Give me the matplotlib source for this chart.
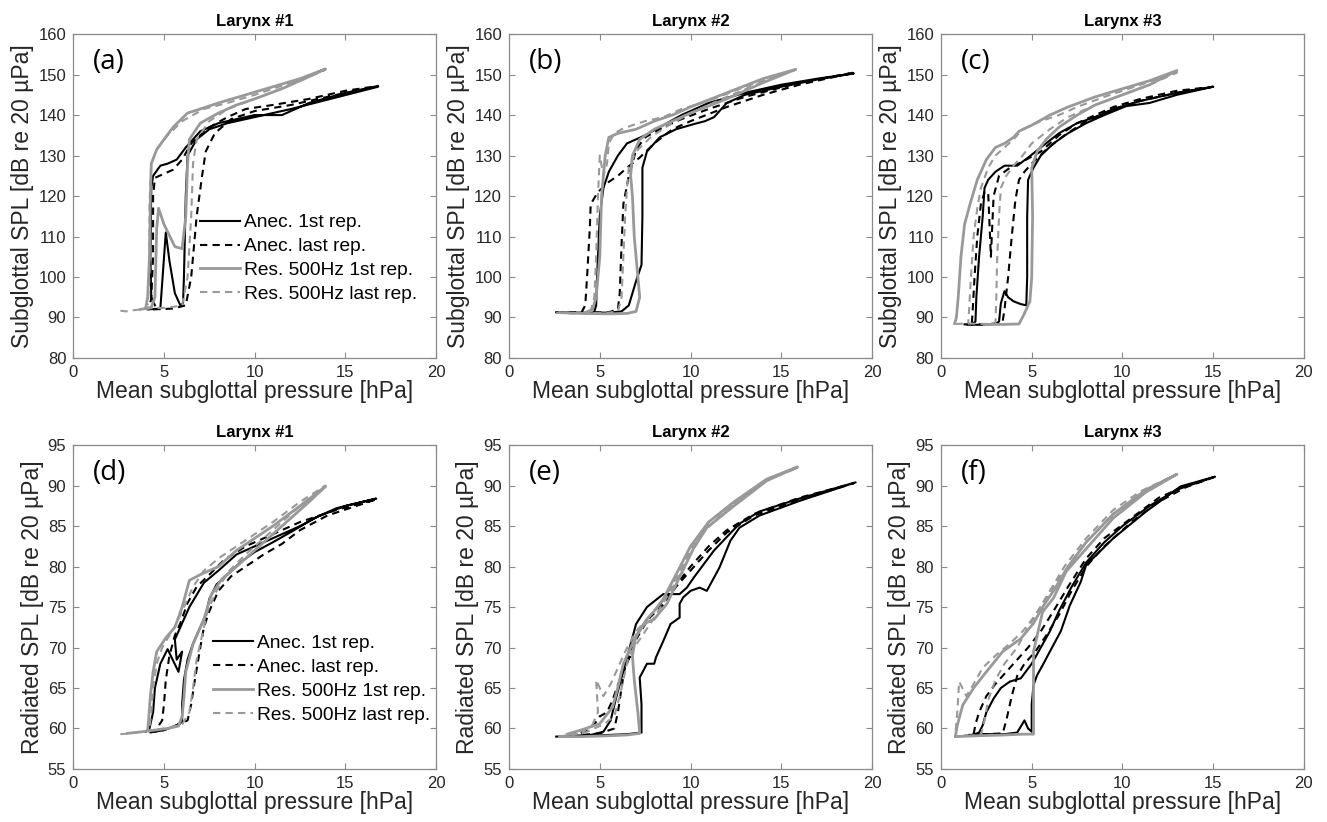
import matplotlib
matplotlib.use("Agg")
import matplotlib.pyplot as plt
from matplotlib.lines import Line2D

# ---------------- DATA (mean subglottal pressure [hPa], SPL [dB]) ----------------
# Panel (a): Larynx #1, subglottal SPL
a_anec1 = [(4.1,92),(4.8,92.2),(5.1,111),(5.3,104),(5.6,96),(5.9,93),(6.05,93.5),(6.1,100),(6.2,120),
           (6.3,130),(6.8,134),(7.5,136.5),(8.5,138),(10,139.5),(12,141.5),(14,143.8),(16.8,147),
           (15,145.5),(13,143),(11.5,140),(10,140),(9,139),(8,138),(7,136),(6.2,132),(5.7,129),
           (5.2,128),(4.8,127.5),(4.4,125),(4.3,122),(4.25,105),(4.3,95),(4.5,93)]
a_anec2 = [(4.4,92),(5.5,92.2),(6.2,93),(6.5,100),(6.8,115),(7.1,125),(7.3,131),(7.8,135.5),(8.7,139),
           (10,141),(12,142.5),(14,144.5),(16.8,147.2),(15,146),(13,144),(11,142.5),(9.5,141.5),
           (8.5,139.5),(7.5,137),(6.5,133),(6.0,129),(5.5,126.5),(5.0,125.5),(4.5,124.5),(4.4,120),
           (4.4,105),(4.3,95),(4.2,92.3)]
a_res1 = [(3.7,92),(4.3,92.5),(4.5,95),(4.6,112),(4.7,117),(5.0,113),(5.6,107.5),(6.0,107),(6.2,115),
          (6.3,128),(6.4,134),(7.0,138),(8,140.5),(9,142.5),(10,144),(11.5,146.5),(13,149.5),(13.9,151.4),
          (12.5,149),(11,147),(9.5,145),(8,143),(7.0,141.5),(6.3,140.5),(5.5,137),(5.0,134),(4.6,131.5),
          (4.3,128),(4.25,120),(4.2,105),(4.1,95),(4.0,92.5)]
a_res2 = [(2.6,91.7),(2.9,91.5),(3.3,91.8),(3.8,92),(4.3,92.3),(5.2,92.4),(6.0,93),(6.3,100),(6.5,115),
          (6.6,128),(6.8,134),(7.5,138.5),(8.5,141.5),(10,144),(12,147.5),(13.9,151.2),(12,148),(10,145),
          (8.5,143),(7.2,141.5),(6.0,138.5),(5.2,135),(4.6,131.5),(4.3,128),(4.2,118),(4.2,100),(4.1,93)]

# Panel (b): Larynx #2, subglottal SPL
b_anec1 = [(2.6,91.3),(4.0,91.2),(5.5,91.2),(6.2,91.5),(6.6,93),(7.0,99),(7.3,103),(7.35,115),(7.35,127),
           (7.6,131),(8.3,134.5),(9.2,136.5),(10.2,137.8),(10.8,138.5),(11.3,139.5),(12.0,143),(13,145),
           (15,147),(17,148.8),(19,150.3),(17,149),(15,147.5),(13,145.5),(11,143),(9.5,140),(8.5,137.5),
           (7.5,135),(6.5,133),(6.0,130),(5.5,126),(5.2,122),(5.0,115),(4.85,100),(4.8,93),(4.7,91.5)]
b_anec2 = [(2.6,91.3),(4.0,91.3),(4.2,93),(4.3,100),(4.45,112),(4.5,118),(4.9,121),(5.5,123.5),(6.0,125),
           (6.5,127),(7.2,129.5),(8,133),(9,136.5),(10,138.5),(12,142),(14,145),(16,147.5),(19,150.5),
           (16,148),(13,144.5),(11,141.5),(9.5,139),(8.5,137),(7.5,134.5),(7.0,131.5),(6.8,128),(6.6,125),
           (6.3,118),(6.2,108),(6.1,96),(6.0,92),(5.5,91.3),(4.5,91.3)]
b_res1 = [(2.8,91.2),(4.0,91),(5.5,90.9),(6.5,91),(7.0,91.5),(7.2,95),(7.1,100),(6.9,110),(6.8,120),
          (6.7,125),(6.8,130),(7.2,134),(8,136.5),(9,138.5),(10,140.5),(12,144),(14,148),(15.8,151.3),
          (14,149),(12,145.5),(10,142),(9,140),(8,138.5),(7,136.5),(6,135.5),(5.5,134.5),(5.3,130),
          (5.1,120),(5.0,105),(4.8,95),(4.6,92),(4.2,91.2)]
b_res2 = [(2.6,91.2),(3.5,91),(4.5,91.1),(5.5,91.2),(6.0,91.5),(6.2,95),(6.3,105),(6.4,115),(6.5,122),
          (6.6,127),(7,131),(7.8,134.5),(8.8,137.5),(10,140.5),(12,144.5),(14,148.2),(15.8,151.2),
          (13,147),(11,143.5),(9.5,141.5),(8.5,139.5),(7.5,138.5),(6.8,137.5),(6.2,136.5),(5.8,135.5),
          (5.5,133),(5.4,128),(5.2,125),(5.0,130),(4.9,120),(4.8,105),(4.7,95),(4.5,91.5)]

# Panel (c): Larynx #3, subglottal SPL
c_anec1 = [(1.3,88.3),(2.0,88.2),(3.0,88.4),(3.2,89),(3.3,93.5),(3.5,96.5),(3.7,95),(4.0,94),(4.4,93.3),
           (4.7,93),(4.75,100),(4.75,115),(4.8,124),(5.1,127),(5.5,130),(6.2,133),(7,135.5),(8,138),
           (9,140),(10.2,142.2),(11.5,143),(13,145),(15,147),(13,145.5),(11,143.5),(9.5,141.5),(8.5,139.5),
           (7.5,138),(6.5,135.5),(5.5,132),(4.8,129.5),(4.2,127.5),(3.5,127.5),(3.0,126),(2.6,124),
           (2.4,122),(2.3,115),(2.1,105),(1.95,95),(1.9,89),(1.7,88.3)]
c_anec2 = [(1.4,88.3),(2.2,88.3),(3.0,88.5),(3.4,89),(3.5,92),(3.7,100),(3.9,110),(4.1,119),(4.3,124),
           (4.6,126),(5.0,128),(5.8,131.5),(6.8,135),(8,138.5),(9.5,141.5),(11,143.5),(13,145.5),(15,147),
           (13,146),(11,144),(9.5,142),(8.5,140),(7.5,138),(6.5,135),(5.5,131),(4.5,128.5),(3.8,127),
           (3.2,125),(2.9,120),(2.75,105),(2.6,121),(2.4,121),(2.2,118),(2.0,110),(1.85,100),(1.75,92),
           (1.7,88.5)]
c_res1 = [(2.4,88.3),(3.5,88.3),(4.3,88.4),(4.6,91),(4.9,94),(5.0,100),(5.05,115),(5.0,127),(5.3,131),
          (5.8,134),(6.5,137),(7.5,140),(8.5,142.5),(10,145),(11.5,147.5),(13,151),(11.5,148.5),
          (10,146.5),(8.5,144.5),(7,142),(6,140),(5,137.5),(4.3,136),(4.0,134.5),(3.5,133),(3.0,132),
          (2.5,129),(2.0,124),(1.6,118),(1.3,113),(1.1,105),(0.95,95),(0.85,90),(0.75,88.5)]
c_res2 = [(0.8,88.4),(1.5,88.5),(2.5,88.4),(3.0,88.6),(3.05,95),(3.1,105),(3.2,115),(3.3,122),(3.6,125),
          (4.0,127.5),(4.5,130),(5.0,133),(6,136.5),(7,139.5),(8.5,142.5),(10,145),(11.5,147.5),
          (13,150.5),(11,147.5),(9,144.5),(7.5,142),(6.5,140),(5.5,138.5),(4.5,136.5),(4.0,134),
          (3.5,132),(3.0,130),(2.6,127),(2.2,122),(2.0,117),(1.8,110),(1.65,100),(1.55,92),(1.5,88.5)]

# Panel (d): Larynx #1, radiated SPL
d_anec1 = [(4.5,59.6),(5.0,59.8),(5.6,60.3),(6.0,60.8),(6.0,63),(6.1,66),(6.3,68.5),(6.6,70.5),(7.0,72.5),
           (7.3,74),(7.5,76),(7.9,77.8),(8.5,79),(9.2,80.5),(10,81.8),(11,83),(12.1,84.4),(13.3,86),
           (14.5,87.2),(16.7,88.4),(15,87.5),(13.5,86.2),(12.5,85),(11,83.5),(10,82.5),(9,81.5),(8,79.5),
           (7.2,78),(6.8,76.5),(6.4,75),(6,73),(5.6,71),(5.7,68.5),(6.0,69.5),(5.8,67),(5.2,69.8),
           (4.8,68),(4.5,65),(4.4,62),(4.2,60),(4.0,59.6)]
d_anec2 = [(4.2,59.5),(5.0,59.8),(5.8,60.5),(6.3,61),(6.5,63),(6.7,66),(7.0,70),(7.2,72.5),(7.5,74.5),
           (8.0,77),(8.7,78.8),(9.5,80),(10.5,81.5),(11.5,82.8),(12.5,84.5),(14,86.3),(16.7,88.3),
           (14.5,87),(12.5,85.5),(11,84),(9.5,82.5),(8.3,80.8),(7.5,79),(6.8,77.5),(6.3,75.5),(5.9,73),
           (5.6,71.5),(5.3,69),(5.1,66),(5.0,63),(4.9,61),(4.6,60)]
d_res1 = [(3.0,59.4),(3.8,59.6),(4.5,59.8),(5.2,60),(5.8,60.3),(6.0,61.5),(6.1,63.8),(6.2,67),(6.6,70.4),
          (7.2,73.5),(7.6,76.5),(8.2,78.5),(9,80),(10,82),(11,84),(12,86),(13,88),(13.9,89.9),(12.5,87.5),
          (11,85),(10,83.5),(9,82),(8,80),(7,79),(6.4,78.3),(6,75),(5.6,72.5),(5.1,71.2),(4.6,69.5),
          (4.4,67),(4.25,64),(4.15,61),(4.1,59.8)]
d_res2 = [(2.6,59.3),(3.2,59.4),(4.0,59.7),(5.0,60),(6.0,60.5),(6.4,62),(6.6,65),(6.8,68.5),(7.1,71.5),
          (7.4,74.5),(7.9,77),(8.6,79.5),(9.5,81.5),(10.5,83.5),(11.5,85.5),(12.5,87.5),(13.9,90),
          (12.5,88),(11,85.5),(10,84),(9,82.5),(8,81),(7.2,79.5),(6.6,77.5),(6.1,75),(5.7,73),(5.3,71.5),
          (4.9,70),(4.6,68),(4.4,65),(4.3,62),(4.2,60)]

# Panel (e): Larynx #2, radiated SPL
e_anec1 = [(2.6,59),(4,59.1),(5.5,59.2),(6.5,59.3),(7.3,59.5),(7.3,63),(7.2,66.3),(7.6,68),(8.0,68),
           (8.1,68.8),(8.5,70.8),(8.9,72.9),(9.4,73.7),(9.4,75.4),(9.6,76.2),(10.0,77),(10.5,77.4),
           (10.9,77),(11.6,79.9),(12.2,83.2),(12.7,84.8),(13.8,86.3),(16,88.1),(19.1,90.4),(16,88.4),
           (13.8,86.8),(12.7,85.3),(11.3,82),(10.2,78.7),(9.8,77.4),(9.4,76.6),(8.5,76.6),(7.6,75),
           (7.0,72.9),(6.7,70.4),(6.3,67.1),(5.9,63.8),(5.6,61),(5.2,59.6),(4.5,59.2),(3,59)]
e_anec2 = [(2.7,59),(4,59.2),(5,59.4),(5.8,60),(6.0,62),(6.2,65),(6.4,68),(6.7,69),(6.9,71),(7.3,72.5),
           (7.8,73.8),(8.6,75.5),(9.2,77.5),(10,79.5),(11,82),(12,84.2),(13.5,86.3),(16,88.2),(19,90.3),
           (16,88.5),(13.5,86.5),(12,84.5),(11,82.5),(10,80),(9.3,78),(8.6,76),(7.8,74),(7,71),(6.5,68),
           (6.1,66),(5.7,63.5),(5.4,62),(5.0,61.5),(4.7,60.5),(4.3,59.8),(3.8,59.3)]
e_res1 = [(2.8,59),(4,59),(5.5,59.1),(6.5,59.2),(7.2,59.4),(7.1,62),(6.9,66),(6.8,69),(7.0,71.5),(7.5,73),
          (8.0,73.5),(8.7,75.4),(9.4,78.7),(10.2,82.4),(10.9,84.8),(12.4,87.5),(14.2,90.6),(15.9,92.3),
          (14.2,90.8),(12.4,88),(11,85.5),(10,82.5),(9.2,79),(8.5,76),(8,74.5),(7.6,73.5),(7.3,72.5),
          (6.8,70.5),(6.3,68),(6.0,65.1),(5.7,62.6),(5.0,60.6),(4.1,59.9),(3.2,59.3)]
e_res2 = [(2.7,59),(4.2,59.5),(5.2,60.5),(5.8,61.5),(6.1,64),(6.3,66),(6.6,69),(7.2,71),(7.8,73),
          (8.5,75.5),(9.3,78.5),(10,81.5),(10.8,84.5),(12.4,87.8),(14.2,90.8),(15.9,92.2),(14,90.5),
          (12.4,87.8),(11,85.5),(10,82),(9.2,78.5),(8.4,75.5),(7.6,73.5),(7,72),(6.4,69.5),(6,67.5),
          (5.6,65.5),(5.2,64),(4.8,66),(4.9,62),(4.6,60.5),(4.0,59.5),(3.5,59.2)]

# Panel (f): Larynx #3, radiated SPL
f_anec1 = [(1.3,59.1),(2.5,59.3),(3.5,59.3),(4.2,59.5),(4.6,61),(4.8,60),(5.0,59.6),(5.0,63),(5.1,65.4),
           (5.3,66.6),(5.6,67.8),(6.0,69.5),(6.6,72),(7.1,75.2),(7.7,78.1),(8.0,80.2),(9.5,83.5),
           (11.3,86.8),(13.2,89.9),(15.1,91.1),(13,89.5),(11.5,87.5),(10,85),(9,83),(8,80.5),(7.2,77.5),
           (6.5,74.5),(6,72),(5.5,70),(5,68),(4.4,66.2),(3.8,65.8),(3.3,65),(2.9,63.7),(2.5,62),
           (2.3,60.4),(2.1,59.5),(1.6,59.1)]
f_anec2 = [(1.5,59.2),(2.5,59.3),(3.4,59.4),(3.6,61),(3.9,64),(4.2,66.5),(4.6,68),(5.2,69.5),(5.8,71.5),
           (6.5,74),(7.2,77),(8,80),(9,82.5),(10.5,85.5),(12,88),(13.5,89.8),(15,91),(13.5,90),(12,88.5),
           (10.5,86),(9,83.5),(8,81),(7,77.5),(6.2,74.5),(5.5,72),(4.8,70),(4.2,68.5),(3.6,67),(3.0,65.5),
           (2.5,64),(2.1,62),(1.9,60.5),(1.8,59.3)]
f_res1 = [(0.8,59),(2,59.1),(3.5,59.2),(4.5,59.3),(5.1,59.3),(5.1,63),(5.1,69.5),(5.3,71.5),(5.6,74.4),
          (6.2,76.1),(6.9,79.4),(8.0,82.2),(9.5,86),(11.3,89.2),(13,91.4),(11.3,89.5),(9.5,86.5),(8,83),
          (7,80),(6.2,77),(5.6,75),(5.1,73),(4.4,71.1),(3.4,69.5),(2.5,67),(1.8,65),(1.2,62.9),
          (0.9,60.4),(0.8,59.1)]
f_res2 = [(0.75,59),(1.5,59.1),(2.2,59.2),(2.4,61),(2.6,63.5),(3.0,66),(3.5,68),(4.2,70),(4.8,72.5),
          (5.5,75),(6.2,77.5),(7,80),(8,83),(9.5,86.5),(11,89),(12.8,91.2),(11,89.3),(9.5,87),(8,83.5),
          (6.8,80),(6,77),(5.2,74),(4.5,72),(3.8,70.5),(3,69),(2.3,67.5),(1.8,65.5),(1.4,64),(1.0,65.8),
          (0.9,62),(0.8,59.5)]

panel_letters = ["(a)", "(b)", "(c)", "(d)", "(e)", "(f)"]
titles = ["Larynx #1", "Larynx #2", "Larynx #3", "Larynx #1", "Larynx #2", "Larynx #3"]
legend_labels = ["Anec. 1st rep.", "Anec. last rep.", "Res. 500Hz 1st rep.", "Res. 500Hz last rep."]
xlabel = "Mean subglottal pressure [hPa]"
ylabel_top = "Subglottal SPL [dB re 20 \u00b5Pa]"
ylabel_bot = "Radiated SPL [dB re 20 \u00b5Pa]"
xticks = [0, 5, 10, 15, 20]
yticks_top = [80, 90, 100, 110, 120, 130, 140, 150, 160]
yticks_bot = [55, 60, 65, 70, 75, 80, 85, 90, 95]

panels = [
    [a_anec1, a_anec2, a_res1, a_res2],
    [b_anec1, b_anec2, b_res1, b_res2],
    [c_anec1, c_anec2, c_res1, c_res2],
    [d_anec1, d_anec2, d_res1, d_res2],
    [e_anec1, e_anec2, e_res1, e_res2],
    [f_anec1, f_anec2, f_res1, f_res2],
]

# ---------------- STYLE ----------------
plt.rcParams['font.family'] = ['Liberation Sans', 'DejaVu Sans']
GREY = (0.6, 0.6, 0.6)
SPINE = '#8a8a8a'
TXT = '#262626'
DASH = (0, (3.5, 2.5))
styles = [
    dict(color='black', lw=1.5, ls='-'),
    dict(color='black', lw=1.5, ls=DASH),
    dict(color=GREY, lw=2.0, ls='-'),
    dict(color=GREY, lw=1.5, ls=DASH),
]

fig = plt.figure(figsize=(13.27, 8.22), dpi=100)
lefts = [0.0552, 0.3836, 0.7091]
bottoms = [0.5645, 0.0645]
W, H = 0.2735, 0.394

for i, series in enumerate(panels):
    row, col = divmod(i, 3)
    ax = fig.add_axes([lefts[col], bottoms[row], W, H])
    for pts, st in zip(series, styles):
        xs = [p[0] for p in pts]
        ys = [p[1] for p in pts]
        ax.plot(xs, ys, solid_joinstyle='round', dash_capstyle='butt', **st)
    ax.set_xlim(0, 20)
    ax.set_xticks(xticks)
    if row == 0:
        ax.set_ylim(80, 160)
        ax.set_yticks(yticks_top)
        ax.set_ylabel(ylabel_top, fontsize=16.5, color=TXT, labelpad=3)
    else:
        ax.set_ylim(55, 95)
        ax.set_yticks(yticks_bot)
        ax.set_ylabel(ylabel_bot, fontsize=16.5, color=TXT, labelpad=3)
    ax.set_xlabel(xlabel, fontsize=16.5, color=TXT, labelpad=0)
    ax.set_title(titles[i], fontsize=12, fontweight='bold', pad=6)
    ax.tick_params(direction='in', length=4, width=0.8, color=SPINE, labelsize=12,
                   labelcolor=TXT, top=True, right=True, pad=5)
    for sp in ax.spines.values():
        sp.set_color(SPINE)
        sp.set_linewidth(0.9)
    ax.text(0.055, 0.915, panel_letters[i], transform=ax.transAxes, fontsize=20,
            family=['Open Sans', 'DejaVu Sans'], va='center', ha='left', color='black')
    if col == 0:
        handles = [Line2D([], [], **st) for st in styles]
        anchor = (0.349, 0.445) if row == 0 else (0.384, 0.415)
        ax.legend(handles, legend_labels, loc='upper left', bbox_to_anchor=anchor,
                  frameon=False, fontsize=13.8, handlelength=2.1, handletextpad=0.2,
                  labelspacing=0.34, borderpad=0, borderaxespad=0)

fig.savefig("out.png", dpi=100)
